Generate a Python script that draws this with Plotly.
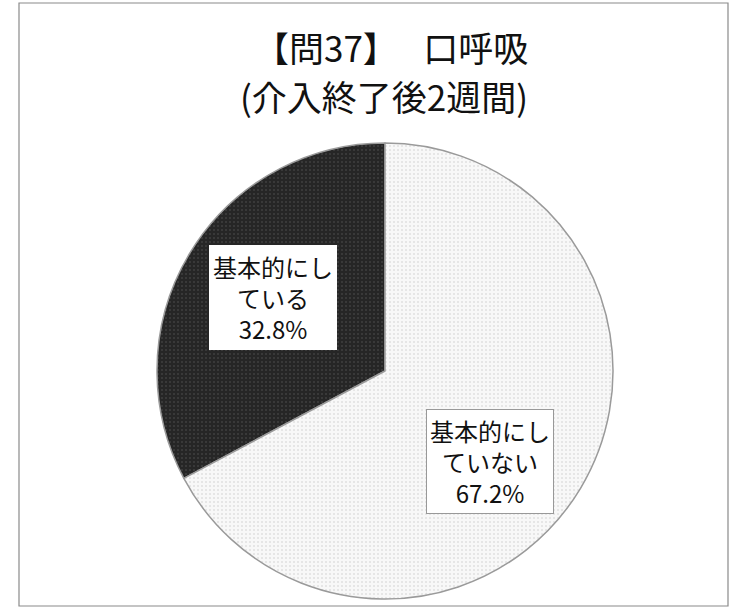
import plotly.graph_objects as go

categories = ["基本的にしている", "基本的にしていない"]
values = [32.8, 67.2]
label_texts = ["基本的にし<br>ている<br>32.8%", "基本的にし<br>ていない<br>67.2%"]
title_lines = ["【問37】　 口呼吸", "(介入終了後2週間)"]

W, H = 741, 608
cx, cy, r = 385, 371, 228

# first slice ends at 12 o'clock, extending to the left
first_share = values[0] / sum(values) * 360

fig = go.Figure()
fig.add_trace(go.Pie(
    labels=categories,
    values=values,
    sort=False,
    direction="clockwise",
    rotation=-first_share,
    textinfo="none",
    hoverinfo="label+percent",
    showlegend=False,
    marker=dict(
        colors=["#262626", "#f8f8f8"],
        line=dict(color="#9a9a9a", width=1.5),
        pattern=dict(shape=[".", "."], fgcolor=["#555555", "#c8c8c8"],
                     fillmode="overlay", size=4, solidity=0.2),
    ),
    domain=dict(x=[(cx - r) / W, (cx + r) / W],
                y=[(H - cy - r) / H, (H - cy + r) / H]),
))

font_cjk = "Noto Sans CJK JP, Noto Sans, sans-serif"

annotations = [
    dict(x=391 / W, y=1 - 46 / H, text=title_lines[0]),
    dict(x=384 / W, y=1 - 95 / H, text=title_lines[1]),
]
for a in annotations:
    a.update(xref="paper", yref="paper", showarrow=False,
             font=dict(family=font_cjk, size=35, color="#111"),
             xanchor="center", yanchor="middle")

label_pos = [(273, 297), (490, 462)]
for txt, (lx, ly), bc in zip(label_texts, label_pos, ["#ffffff", "#999999"]):
    annotations.append(dict(
        x=lx / W, y=1 - ly / H, xref="paper", yref="paper", showarrow=False,
        text=txt, align="center",
        font=dict(family=font_cjk, size=24, color="#111"),
        bgcolor="#ffffff", bordercolor=bc, borderwidth=1, borderpad=3,
        xanchor="center", yanchor="middle",
    ))

fig.update_layout(
    width=W, height=H,
    margin=dict(l=0, r=0, t=0, b=0),
    paper_bgcolor="#ffffff",
    plot_bgcolor="#ffffff",
    annotations=annotations,
    shapes=[dict(type="rect", xref="paper", yref="paper",
                 x0=19 / W, x1=728 / W, y0=1 - 606 / H, y1=1 - 3 / H,
                 line=dict(color="#8a8a8a", width=1.2))],
)

fig.write_html("out.html", config={"displayModeBar": False})

with open("out.html", encoding="utf-8") as f:
    html = f.read()
html = html.replace("<head>", "<head><style>html,body{margin:0;padding:0;overflow:hidden;}</style>", 1)
with open("out.html", "w", encoding="utf-8") as f:
    f.write(html)
